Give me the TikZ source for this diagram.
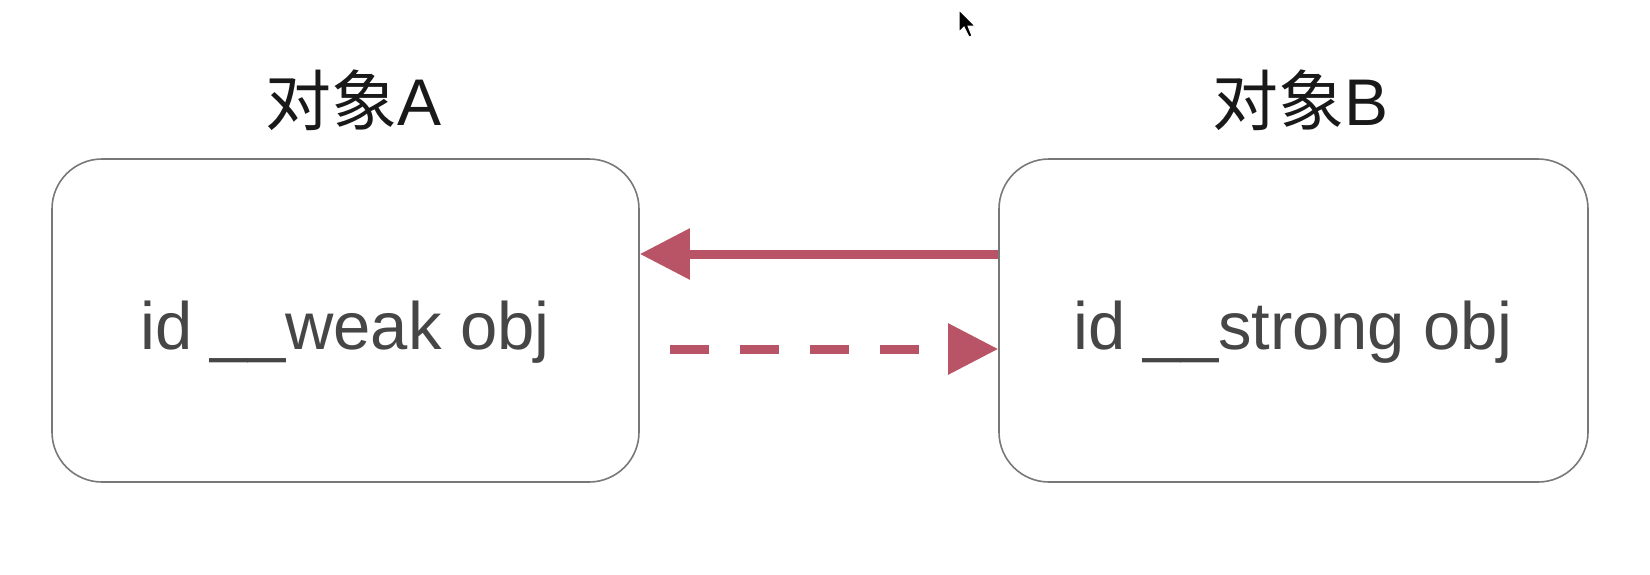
\documentclass[tikz,border=0pt]{standalone}
\usepackage{fontspec}
\setmainfont{Liberation Sans}
\newfontfamily\cjk{Noto Sans CJK SC}
\usetikzlibrary{arrows.meta}
\definecolor{arrowred}{RGB}{184,84,102}
\definecolor{boxline}{RGB}{120,120,120}
\definecolor{txtgray}{RGB}{70,70,70}
\tikzset{
  objbox/.style={draw=boxline, line width=1.6pt, rounded corners=50pt, inner sep=0pt, minimum height=323pt},
  bodytext/.style={anchor=base, inner sep=0pt, text=txtgray, font=\fontsize{67}{80}\selectfont},
  titletext/.style={anchor=base, inner sep=0pt, text=black!90, font=\fontsize{66}{80}\selectfont},
  refline/.style={draw=arrowred, line width=9pt, -{Triangle[length=50pt,width=49pt]}},
  weakline/.style={refline, dash pattern=on 39.5pt off 30.5pt},
}
\begin{document}
\begin{tikzpicture}[x=1pt, y=-1pt]
\useasboundingbox (0,0) rectangle (1650,574);
\node[objbox, minimum width=587pt] (A) at (345.5,320.5) {};
\node[objbox, minimum width=589pt] (B) at (1293.5,320.5) {};
\node[titletext] (tA) at (354,125) {{\cjk 对象}A};
\node[titletext] (tB) at (1300,125) {{\cjk 对象}B};
\node[bodytext] (xA) at (345,349) {id \_\_weak obj};
\node[bodytext] (xB) at (1293,349) {id \_\_strong obj};
\draw[refline] ([yshift=66.5pt]B.west) -- ([yshift=66.5pt]A.east);
\draw[weakline] ([xshift=30pt,yshift=-28.5pt]A.east) -- ([yshift=-28.5pt]B.west);
% mouse pointer
\fill[black, draw=white, line width=1pt] (959,10) -- (959,32) -- (964,27) -- (969,37) -- (972,36) -- (968,26) -- (975,26) -- cycle;
\end{tikzpicture}
\end{document}
